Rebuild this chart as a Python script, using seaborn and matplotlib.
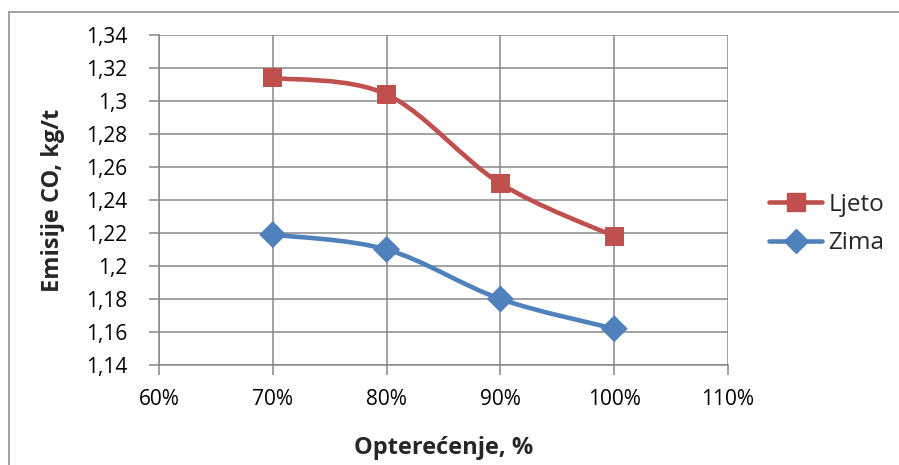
import numpy as np
import pandas as pd
import matplotlib.pyplot as plt
import seaborn as sns
from matplotlib.path import Path
from matplotlib.patches import PathPatch
from matplotlib.lines import Line2D
from matplotlib.ticker import FuncFormatter, MultipleLocator

# data
load_pct = [70, 80, 90, 100]
ljeto = [1.314, 1.304, 1.250, 1.218]
zima = [1.219, 1.210, 1.180, 1.162]
series_names = ['Ljeto', 'Zima']

colors = {'Ljeto': '#C0504D', 'Zima': '#4F81BD'}
markers = {'Ljeto': 's', 'Zima': 'D'}

df = pd.DataFrame({
    'opterecenje': load_pct * 2,
    'emisije': ljeto + zima,
    'serija': ['Ljeto'] * len(load_pct) + ['Zima'] * len(load_pct),
})

sns.set_style('white')
plt.rcParams['font.family'] = ['Open Sans', 'DejaVu Sans']

fig = plt.figure(figsize=(8.99, 4.65), dpi=100)
ax = fig.add_axes([159 / 899, 1 - 365 / 465, 569 / 899, 330 / 465])


def smooth_path(xs, ys):
    # Excel-like smoothed line: Catmull-Rom converted to cubic Bezier segments
    pts = np.column_stack([xs, ys]).astype(float)
    verts = [pts[0]]
    codes = [Path.MOVETO]
    n = len(pts)
    for i in range(n - 1):
        p0 = pts[i - 1] if i > 0 else pts[i]
        p1, p2 = pts[i], pts[i + 1]
        p3 = pts[i + 2] if i + 2 < n else pts[i + 1]
        c1 = p1 + (p2 - p0) / 6
        c2 = p2 - (p3 - p1) / 6
        verts += [c1, c2, p2]
        codes += [Path.CURVE4] * 3
    return Path(verts, codes)


for name in series_names:
    sub = df[df['serija'] == name]
    patch = PathPatch(smooth_path(sub['opterecenje'], sub['emisije']),
                      facecolor='none', edgecolor=colors[name], lw=3.3,
                      capstyle='round', joinstyle='round', zorder=3)
    ax.add_patch(patch)

sns.scatterplot(data=df, x='opterecenje', y='emisije', hue='serija', style='serija',
                palette=colors, markers=markers, s=190, linewidth=0, ax=ax,
                legend=False, zorder=4)

ax.set_xlim(60, 110)
ax.set_ylim(1.14, 1.34)
ax.xaxis.set_major_locator(MultipleLocator(10))
ax.yaxis.set_major_locator(MultipleLocator(0.02))
ax.xaxis.set_major_formatter(FuncFormatter(lambda v, p: f'{v:.0f}%'))
ax.yaxis.set_major_formatter(FuncFormatter(lambda v, p: f'{round(v, 2):g}'.replace('.', ',')))

ax.grid(True, color='#878787', lw=1.1)
ax.set_axisbelow(True)
for side in ['top', 'right']:
    ax.spines[side].set_visible(False)
for side in ['left', 'bottom']:
    ax.spines[side].set_color('#878787')
    ax.spines[side].set_linewidth(1.1)
ax.tick_params(axis='both', direction='out', length=7, width=1.1, color='#878787',
               labelsize=15, labelcolor='black', left=True, bottom=True)
ax.tick_params(axis='y', pad=16)
ax.tick_params(axis='x', pad=10)

ax.set_xlabel('Opterećenje, %', fontsize=17, fontweight='bold', labelpad=19)
ax.set_ylabel('Emisije CO, kg/t', fontsize=17, fontweight='bold', labelpad=15)

handles = [Line2D([], [], color=colors[n], lw=3.3, marker=markers[n],
                  markersize=13 if n == 'Ljeto' else 12, solid_capstyle='round')
           for n in series_names]
fig.legend(handles, series_names, loc='center left', bbox_to_anchor=(769 / 899, 1 - 224 / 465),
           frameon=False, fontsize=17.5, handlelength=2.2, handletextpad=0.25,
           labelspacing=0.6, borderpad=0, borderaxespad=0)

# chart-area border: only the top and left edges are visible in the crop
frame_x = 8.5 / 899
frame_y = 1 - 12.5 / 465
fig.add_artist(Line2D([frame_x, 1.0], [frame_y, frame_y], transform=fig.transFigure,
                      color='#878787', lw=1.1))
fig.add_artist(Line2D([frame_x, frame_x], [0.0, frame_y], transform=fig.transFigure,
                      color='#878787', lw=1.1))

fig.savefig('out.png', dpi=100)
